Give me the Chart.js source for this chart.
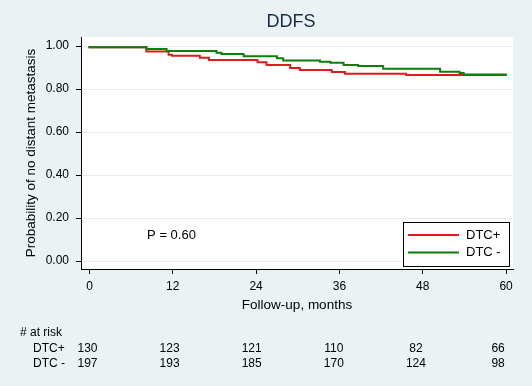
<!DOCTYPE html>
<html>
<head>
<meta charset="utf-8">
<script src="https://cdn.jsdelivr.net/npm/chart.js@4/dist/chart.umd.min.js"></script>
<style>
  html, body { margin: 0; padding: 0; background: #eaf2f3; }
  #wrap { width: 532px; height: 386px; }
</style>
</head>
<body>
<div id="wrap"><canvas id="km" width="532" height="386"></canvas></div>
<script>
(function () {
    'use strict';

    // Kaplan-Meier steps (months, survival)
    var redT   = [0, 8.2, 11.4, 11.9, 15.9, 17.2, 24.2, 25.5, 28.9, 30.3, 34.9, 36.8, 45.6, 54.8, 60.1];
    var redS   = [1, 0.994, 0.974, 0.96, 0.955, 0.946, 0.935, 0.924, 0.912, 0.898, 0.888, 0.879, 0.871, 0.865, 0.865];
    var greenT = [0, 8.2, 11.1, 18.3, 19.0, 22.2, 27.0, 27.9, 33.2, 34.7, 36.6, 38.7, 42.3, 50.5, 53.3, 53.9, 54.8, 60.1];
    var greenS = [1, 0.994, 0.986, 0.977, 0.969, 0.963, 0.953, 0.943, 0.933, 0.927, 0.922, 0.912, 0.907, 0.894, 0.88, 0.874, 0.868, 0.868];

    var seriesNames = ['DTC+', 'DTC -'];
    var xTicks = [0, 12, 24, 36, 48, 60];
    var yTicks = [0, 0.2, 0.4, 0.6, 0.8, 1.0];
    var atRiskRed = [130, 123, 121, 110, 82, 66];
    var atRiskGreen = [197, 193, 185, 170, 124, 98];
    var pText = 'P = 0.60';

    var RED = '#e01b1b';
    var GREEN = '#0b7f0b';
    var FONT = "'Liberation Sans', Arial, sans-serif";

    function toPoints(ts, ss) {
        var pts = [];
        for (var i = 0; i < ts.length; i++) {
            pts.push({ x: ts[i], y: ss[i] });
        }
        return pts;
    }

    var decor = {
        id: 'decor',
        beforeDraw: function (chart) {
            var ctx = chart.ctx;
            var a = chart.chartArea;
            ctx.save();
            ctx.fillStyle = '#eaf2f3';
            ctx.fillRect(0, 0, chart.width, chart.height);
            ctx.fillStyle = '#ffffff';
            ctx.fillRect(a.left, a.top, a.right - a.left, a.bottom - a.top);
            ctx.restore();
        },
        afterDraw: function (chart) {
            var ctx = chart.ctx;
            var a = chart.chartArea;
            var xs = chart.scales.x;
            var ys = chart.scales.y;
            ctx.save();

            // title
            ctx.fillStyle = '#1a2a48';
            ctx.font = '18px ' + FONT;
            ctx.textAlign = 'center';
            ctx.textBaseline = 'middle';
            ctx.fillText('DDFS', 291, 22);

            // p value
            ctx.fillStyle = '#000';
            ctx.font = '13px ' + FONT;
            ctx.textAlign = 'left';
            ctx.fillText(pText, xs.getPixelForValue(8.3), ys.getPixelForValue(0.12));

            // legend box
            var bx = a.right - 110, by = a.bottom - 47, bw = 106, bh = 44;
            ctx.fillStyle = '#fff';
            ctx.fillRect(bx, by, bw, bh);
            ctx.strokeStyle = '#000';
            ctx.lineWidth = 1;
            ctx.strokeRect(bx + 0.5, by + 0.5, bw, bh);
            var cols = [RED, GREEN];
            for (var i = 0; i < seriesNames.length; i++) {
                var ly = by + 13 + i * 17.5;
                ctx.strokeStyle = cols[i];
                ctx.lineWidth = 2;
                ctx.beginPath();
                ctx.moveTo(bx + 5, ly);
                ctx.lineTo(bx + 56, ly);
                ctx.stroke();
                ctx.fillStyle = '#000';
                ctx.font = '13px ' + FONT;
                ctx.textAlign = 'left';
                ctx.fillText(seriesNames[i], bx + 63, ly);
            }

            // number at risk
            ctx.font = '12px ' + FONT;
            ctx.fillStyle = '#000';
            ctx.textAlign = 'left';
            ctx.fillText('# at risk', 20, 333);
            ctx.fillText(seriesNames[0], 33, 349);
            ctx.fillText(seriesNames[1], 33, 364);
            ctx.textAlign = 'center';
            for (var k = 0; k < xTicks.length; k++) {
                var px = xs.getPixelForValue(xTicks[k]) - 2 - xTicks[k] / 60 * 6;
                ctx.fillText(String(atRiskRed[k]), px, 349);
                ctx.fillText(String(atRiskGreen[k]), px, 364);
            }
            ctx.restore();
        }
    };

    new Chart(document.getElementById('km'), {
        type: 'line',
        data: {
            datasets: [{
                label: seriesNames[0],
                data: toPoints(redT, redS),
                borderColor: RED,
                borderWidth: 2,
                stepped: 'after',
                pointRadius: 0,
                fill: false,
                order: 2
            }, {
                label: seriesNames[1],
                data: toPoints(greenT, greenS),
                borderColor: GREEN,
                borderWidth: 2,
                stepped: 'after',
                pointRadius: 0,
                fill: false,
                order: 1
            }]
        },
        options: {
            responsive: false,
            animation: false,
            events: [],
            layout: { padding: { left: 23, right: 19, top: 37, bottom: 73 } },
            plugins: {
                legend: { display: false },
                tooltip: { enabled: false },
                title: { display: false }
            },
            scales: {
                x: {
                    type: 'linear',
                    min: -1.22,
                    max: 61.0,
                    afterBuildTicks: function (s) {
                        s.ticks = xTicks.map(function (v) { return { value: v }; });
                    },
                    afterFit: function (s) { s.height = 44; },
                    ticks: {
                        color: '#000',
                        font: { family: FONT, size: 12 },
                        padding: 5,
                        maxRotation: 0,
                        callback: function (v) { return String(v); }
                    },
                    grid: {
                        drawOnChartArea: false,
                        drawTicks: true,
                        tickLength: 5,
                        tickColor: '#000'
                    },
                    border: { display: true, color: '#000', width: 1 },
                    title: {
                        display: true,
                        text: 'Follow-up, months',
                        color: '#000',
                        font: { family: FONT, size: 13.5 },
                        padding: { top: 0, bottom: 0 }
                    }
                },
                y: {
                    type: 'linear',
                    min: -0.037,
                    max: 1.042,
                    afterBuildTicks: function (s) {
                        s.ticks = yTicks.map(function (v) { return { value: v }; });
                    },
                    afterFit: function (s) { s.width = 58; },
                    ticks: {
                        color: '#000',
                        font: { family: FONT, size: 12 },
                        padding: 7,
                        callback: function (v) { return Number(v).toFixed(2); }
                    },
                    grid: {
                        color: '#e4ecee',
                        drawTicks: true,
                        tickLength: 5,
                        tickColor: '#000'
                    },
                    border: { display: true, color: '#000', width: 1 },
                    title: {
                        display: true,
                        text: 'Probability of no distant metastasis',
                        color: '#000',
                        font: { family: FONT, size: 13.5 },
                        padding: { top: 0, bottom: 0 }
                    }
                }
            }
        },
        plugins: [decor]
    });
})();
</script>
</body>
</html>
